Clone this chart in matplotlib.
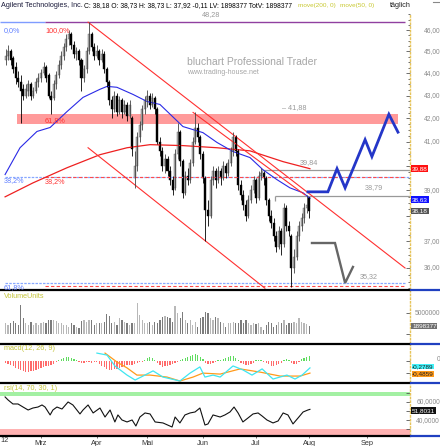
import matplotlib
matplotlib.use('Agg')
import matplotlib.pyplot as plt
from matplotlib import font_manager as fm
from matplotlib.ticker import FixedLocator, NullFormatter, NullLocator

# ---- data (bar index 6 = first visible day, 126 = last) ----
bar_idx = list(range(6, 127))

opens = [44.6, 44.8, 45.0, 44.7, 44.3, 43.8, 43.6, 43.3, 43.0, 43.2,
         43.5, 43.0, 43.2, 43.6, 43.8, 44.0, 44.3, 43.9, 43.0, 42.9,
         43.5, 43.9, 44.4, 44.8, 45.2, 45.6, 45.8, 45.3, 44.9, 45.0,
         44.6, 43.8, 44.2, 45.0, 45.8, 45.2, 44.8, 45.0, 44.6, 44.9,
         44.2, 43.6, 42.8, 42.4, 43.0, 42.3, 42.8, 42.3, 42.6, 42.1,
         42.0, 39.5, 40.0, 41.2, 41.7, 42.4, 42.8, 43.0, 42.6, 42.9,
         42.4, 41.0, 40.6, 40.0, 40.3, 39.8, 39.4, 39.1, 40.5, 41.4,
         40.2, 38.9, 39.6, 39.4, 40.1, 41.0, 41.6, 41.2, 40.5, 39.5,
         38.2, 38.0, 39.4, 39.8, 39.4, 39.8, 39.5, 40.0, 39.7, 40.1,
         40.6, 41.2, 40.6, 39.2, 38.8, 38.4, 38.0, 38.6, 39.0, 39.4,
         38.7, 39.6, 39.7, 39.5, 38.6, 38.0, 37.7, 37.2, 36.8, 37.4,
         36.9, 38.3, 37.6, 37.2, 36.0, 36.4, 37.2, 37.6, 37.9, 38.3,
         38.73]
highs = [45.1, 45.3, 45.1, 44.8, 44.5, 44.1, 43.9, 43.5, 43.5, 43.7,
         43.6, 43.4, 43.8, 44.0, 44.2, 44.5, 44.4, 44.0, 43.2, 43.7,
         44.1, 44.6, 45.0, 45.4, 45.8, 46.0, 45.9, 45.5, 45.2, 45.1,
         44.7, 44.4, 45.2, 46.38, 45.9, 45.4, 45.3, 45.1, 45.1, 45.0,
         44.3, 43.7, 43.0, 43.2, 43.1, 43.0, 42.9, 42.8, 42.7, 42.8,
         42.1, 40.6, 41.4, 41.9, 42.6, 43.0, 43.25, 43.1, 43.1, 43.0,
         42.5, 41.2, 40.8, 40.5, 40.4, 40.0, 39.6, 40.7, 41.8, 41.5,
         40.3, 39.8, 39.9, 40.3, 41.2, 42.3, 41.8, 41.3, 40.6, 39.6,
         38.6, 39.6, 40.0, 39.9, 40.0, 39.9, 40.2, 40.1, 40.3, 40.8,
         41.4, 41.3, 40.7, 39.4, 39.0, 38.6, 38.8, 39.2, 39.6, 39.5,
         39.8, 39.9, 39.8, 39.6, 38.7, 38.2, 37.9, 37.4, 37.6, 37.5,
         38.5, 38.4, 37.8, 37.3, 36.7, 37.4, 37.8, 38.1, 38.5, 38.8,
         38.73]
lows = [44.4, 44.6, 44.4, 44.0, 43.5, 43.4, 41.8, 42.8, 42.9, 43.0,
        42.8, 42.9, 43.1, 43.4, 43.6, 43.9, 43.6, 42.9, 42.2, 42.8,
        43.3, 43.8, 44.2, 44.6, 45.0, 45.3, 45.1, 44.7, 44.6, 44.4,
        43.2, 43.6, 44.0, 44.9, 45.0, 44.6, 44.7, 44.4, 44.5, 44.0,
        43.4, 42.6, 42.0, 42.3, 42.1, 42.2, 42.0, 42.2, 41.9, 42.0,
        40.4, 39.1, 39.8, 41.0, 41.5, 42.2, 42.5, 42.4, 42.5, 42.2,
        40.9, 40.4, 39.8, 39.7, 39.6, 39.2, 38.8, 39.0, 40.3, 40.0,
        38.7, 38.8, 39.2, 39.3, 40.0, 40.9, 41.0, 40.3, 39.3, 37.0,
        37.6, 37.9, 39.2, 39.1, 39.3, 39.2, 39.4, 39.5, 39.6, 40.0,
        40.4, 40.4, 39.0, 38.6, 38.2, 37.8, 37.9, 38.5, 38.9, 38.5,
        38.6, 39.4, 39.2, 38.4, 37.8, 37.5, 37.0, 36.6, 36.7, 36.5,
        36.8, 37.4, 37.2, 35.3, 35.8, 36.3, 37.0, 37.4, 37.7, 38.1,
        37.92]
closes = [44.8, 45.0, 44.6, 44.2, 43.8, 43.6, 43.2, 43.0, 43.3, 43.5,
          43.0, 43.2, 43.6, 43.8, 44.0, 44.3, 43.8, 43.0, 42.8, 43.5,
          43.9, 44.4, 44.8, 45.2, 45.6, 45.8, 45.3, 44.9, 45.0, 44.6,
          43.8, 44.2, 45.0, 45.8, 45.2, 44.8, 45.0, 44.6, 44.9, 44.2,
          43.6, 42.8, 42.4, 43.0, 42.3, 42.8, 42.3, 42.6, 42.1, 42.6,
          40.7, 40.0, 41.2, 41.7, 42.4, 42.8, 43.0, 42.6, 42.9, 42.4,
          41.0, 40.6, 40.0, 40.3, 39.8, 39.4, 39.0, 40.5, 41.4, 40.2,
          38.9, 39.6, 39.4, 40.1, 41.0, 41.6, 41.2, 40.5, 39.5, 38.2,
          38.0, 39.4, 39.8, 39.4, 39.8, 39.5, 40.0, 39.7, 40.1, 40.6,
          41.2, 40.6, 39.2, 38.8, 38.4, 38.0, 38.6, 39.0, 39.4, 38.7,
          39.6, 39.7, 39.5, 38.6, 38.0, 37.7, 37.2, 36.8, 37.4, 36.9,
          38.3, 37.6, 37.4, 36.0, 36.4, 37.2, 37.6, 37.9, 38.3, 38.4,
          38.18]

# volume in millions
volume = [2.6, 2.2, 2.7, 3.2, 2.6, 2.2, 7.0, 3.8, 2.6, 2.2,
          3.0, 2.2, 2.7, 2.2, 2.7, 3.0, 2.6, 3.5, 3.4, 3.5,
          3.2, 2.6, 2.7, 2.2, 2.2, 1.8, 2.6, 2.2, 1.8, 1.4,
          3.2, 3.4, 3.0, 3.5, 3.4, 2.2, 2.6, 2.7, 2.6, 3.0,
          4.8, 4.3, 2.6, 3.0, 2.2, 3.8, 3.4, 3.0, 2.6, 2.2,
          2.7, 2.6, 7.6, 4.6, 3.5, 2.7, 2.6, 3.0, 2.2, 3.0,
          2.6, 3.4, 4.2, 4.3, 4.2, 3.8, 3.0, 6.8, 5.0, 3.8,
          5.2, 3.4, 2.6, 3.4, 2.2, 3.0, 1.8, 3.8, 4.2, 5.4,
          5.0, 3.8, 3.5, 4.2, 3.8, 3.0, 2.6, 1.8, 2.6, 2.7,
          3.0, 2.6, 2.7, 3.4, 2.6, 3.5, 2.7, 2.2, 2.6, 2.4,
          2.7, 1.8, 1.0, 2.2, 3.0, 2.6, 1.8, 2.2, 3.0, 2.6,
          3.4, 2.2, 2.6, 2.7, 3.0, 2.6, 3.8, 3.0, 2.6, 2.4,
          1.9]

macd_hist = [-0.08, -0.12, -0.16, -0.20, -0.28, -0.32, -0.36, -0.40, -0.45, -0.45,
             -0.40, -0.40, -0.36, -0.32, -0.28, -0.24, -0.20, -0.20, -0.16, -0.12,
             -0.04, 0.04, 0.08, 0.12, 0.16, 0.16, 0.12, 0.08, 0.04, -0.04,
             -0.08, -0.08, -0.04, -0.04, -0.08, -0.04, -0.04, -0.12, -0.20, -0.24,
             -0.32, -0.36, -0.36, -0.32, -0.32, -0.28, -0.24, -0.20, -0.16, -0.16,
             -0.16, -0.12, -0.08, -0.04, -0.04, 0.04, 0.12, 0.16, 0.12, 0.04,
             -0.08, -0.16, -0.24, -0.20, -0.20, -0.16, -0.12, -0.08, -0.04, 0.04,
             0.08, 0.12, 0.16, 0.20, 0.24, 0.28, 0.24, 0.16, 0.08, -0.08,
             -0.12, -0.12, -0.08, -0.04, 0.04, 0.04, 0.08, 0.12, 0.16, 0.20,
             0.20, 0.12, 0.04, -0.08, -0.12, -0.16, -0.16, -0.12, -0.08, 0.04,
             0.04, 0.04, -0.04, -0.08, -0.12, -0.20, -0.20, -0.16, -0.12, -0.08,
             0.04, 0.08, 0.04, -0.08, -0.12, -0.12, -0.04, 0.08, 0.12, 0.16,
             0.20]

macd_x = [42.1, 46.1, 49.2, 54.0, 57.2, 60.3, 64.3, 68.2, 74.9, 78.9, 82.8, 84.8,
          88.0, 90.8, 95.9, 99.8, 103.4, 107.4, 111.7, 117.2, 120.4, 123.2, 126.3]
macd_line = [0.32, 0.24, -0.20, -0.57, -0.77, -0.61, -0.40, -0.65, -0.81, -0.49, -0.24, -0.65,
             -0.57, -0.65, -0.20, -0.36, -0.57, -0.32, -0.73, -0.57, -0.73, -0.57, -0.28]
signal_x = [45.3, 50.0, 54.0, 57.9, 63.1, 69.8, 74.9, 80.1, 84.0, 90.8, 98.7, 106.6, 114.5, 122.4, 126.3]
signal_line = [0.32, -0.04, -0.28, -0.57, -0.57, -0.65, -0.81, -0.65, -0.49, -0.53, -0.32, -0.45, -0.61, -0.61, -0.49]

rsi_x = [5.8, 7.0, 8.9, 10.9, 12.9, 14.9, 16.8, 18.8, 20.4, 21.6, 23.6, 24.7, 26.3, 28.3, 30.7,
         32.6, 35.4, 36.6, 38.6, 40.6, 43.3, 45.3, 47.3, 49.2, 50.4, 52.0, 54.0, 56.0, 57.5,
         59.1, 61.1, 63.1, 65.1, 68.2, 71.8, 73.0, 74.9, 76.9, 78.9, 80.9, 82.8, 84.8, 86.0,
         88.0, 90.8, 92.7, 94.7, 96.3, 97.9, 99.8, 101.8, 103.8, 105.8, 107.4, 109.3, 111.7,
         113.7, 115.7, 117.6, 119.6, 121.6, 123.6, 125.5, 126.3]
rsi_vals = [65.6, 62.2, 57.8, 57.8, 54.4, 51.1, 53.3, 54.4, 56.7, 54.4, 45.6, 51.1, 54.4, 52.2, 60.0,
            56.7, 46.7, 51.1, 56.7, 47.8, 53.3, 43.3, 51.1, 37.8, 45.6, 40.0, 37.8, 40.0, 33.3,
            43.3, 47.8, 46.7, 37.8, 36.7, 32.2, 43.3, 36.7, 45.6, 47.8, 48.9, 53.3, 34.4, 35.6,
            45.6, 43.3, 45.6, 48.9, 54.4, 47.8, 37.8, 42.2, 46.7, 47.8, 44.4, 40.0, 36.7,
            38.9, 47.8, 45.6, 35.6, 42.2, 48.9, 51.1, 51.8]

ma50_x = [5.8, 11.7, 18.4, 23.6, 30.3, 36.6, 43.3, 46.1, 50.0, 56.4, 61.9, 67.0, 76.1, 84.0,
          89.6, 95.9, 102.6, 107.7, 113.3, 118.4, 123.6, 126.3]
ma50 = [39.64, 40.75, 41.44, 41.61, 42.30, 42.92, 43.28, 43.41, 43.37, 43.05, 42.74, 42.61,
        41.65, 41.39, 40.97, 40.59, 40.34, 39.84, 39.43, 39.10, 38.90, 38.68]
ma200_x = [5.8, 16.8, 30.3, 43.3, 54.0, 63.1, 76.1, 89.6, 97.5, 102.6, 115.7, 126.3]
ma200 = [38.74, 39.30, 39.92, 40.46, 40.75, 40.88, 40.84, 40.75, 40.67, 40.62, 40.17, 39.88]

upper_x, upper_p = [38.6, 163.9], [46.38, 36.0]
lower_x, lower_p = [38.6, 108.5], [40.75, 35.26]
trend2_x, trend2_p = [80.1, 124.3], [42.26, 38.82]

fc_blue_x = [125.5, 133.4, 137.0, 140.2, 148.1, 150.8, 157.5, 161.1]
fc_blue_p = [38.94, 38.94, 39.88, 39.10, 41.09, 40.38, 42.18, 41.41]
fc_gray_x = [127.1, 136.2, 140.2, 143.3]
fc_gray_p = [36.94, 36.94, 35.45, 36.04]

level_top = 46.38
band = (41.78, 42.18)
fib382_blue, fib382_red = 39.56, 39.52
fib618_blue, fib618_red = 35.45, 35.34
gray_levels = [(107.4, 39.84), (112.5, 38.79)]

price_ticks = [36, 37, 39, 41, 42, 43, 44, 45, 46]   # 38 and 40 sit behind the value boxes
month_idx = [20, 42, 62, 84, 105, 126, 149]
month_names = ['Mrz', 'Apr', 'Mai', 'Jun', 'Jul', 'Aug', 'Sep']

# ---- layout helpers (pixel space of a 440x446 image) ----
W, H = 440, 446
names = {f.name for f in fm.fontManager.ttflist}
FONT = ['Liberation Sans Narrow', 'Liberation Sans'] if 'Liberation Sans Narrow' in names else ['Liberation Sans']
plt.rcParams['font.family'] = FONT + ['DejaVu Sans']

fig = plt.figure(figsize=(W / 100, H / 100), dpi=100)
fig.patch.set_facecolor('white')


def add_ax(x0, y0, x1, y1):
    a = fig.add_axes([x0 / W, 1 - y1 / H, (x1 - x0) / W, (y1 - y0) / H])
    a.set_facecolor('none')
    for s in ['top', 'left', 'bottom']:
        a.spines[s].set_visible(False)
    a.spines['right'].set_color('#e6c45a')
    a.spines['right'].set_linestyle(':')
    a.spines['right'].set_linewidth(1.0)
    a.set_xlim(3.79, 165.85)
    a.xaxis.set_major_locator(NullLocator())
    return a


def ftext(x, y, s, **kw):
    kw.setdefault('va', 'center')
    kw.setdefault('fontsize', 5.2)
    fig.text(x / W, 1 - y / H, s, **kw)


def right_label(a, v, s, **kw):
    a.text(440 / 410, v, s, transform=a.get_yaxis_transform(), ha='right', va='center',
           fontsize=4.8, color='#8a8a8a', clip_on=False, **kw)


def value_box(a, v, s, fc, tc='white', pad=0.5):
    a.text(412 / 410, v, s, transform=a.get_yaxis_transform(), ha='left', va='center',
           fontsize=4.6, color=tc, clip_on=False,
           bbox=dict(facecolor=fc, edgecolor='none', pad=pad))


# ---- main price panel ----
ax = add_ax(0, 13, 410, 289)
ax.set_yscale('log')
ax.set_ylim(35.23, 46.82)
ax.yaxis.set_major_locator(FixedLocator(list(range(36, 47))))
ax.yaxis.set_minor_locator(FixedLocator([v / 4 for v in range(141, 188)]))
ax.yaxis.set_major_formatter(NullFormatter())
ax.yaxis.set_minor_formatter(NullFormatter())
ax.tick_params(axis='y', which='both', left=False, right=True, direction='in',
               color='#555555', width=0.6)
ax.tick_params(axis='y', which='major', length=3)
ax.tick_params(axis='y', which='minor', length=1.8)
for v in price_ticks:
    right_label(ax, v, f'{v},00')

# fib / level lines
ax.hlines(level_top, 3.79, 21.6, color='#7f9cff', lw=1.0)
ax.hlines(level_top, 21.6, 163.9, color='#9040a0', lw=1.0)
ax.fill_between([10.5, 161.1], band[0], band[1], color='#ff9a9a', lw=0)
ax.hlines(fib382_blue, 5.77, 165.85, color='#88a8ff', lw=0.9, linestyles=(0, (2, 1)))
ax.hlines(fib382_red, 21.6, 163.9, color='#ff4a4a', lw=0.8, linestyles=(0, (3, 2)))
ax.hlines(fib618_blue, 5.77, 163.9, color='#88a8ff', lw=0.9, linestyles=(0, (2, 1)))
ax.hlines(fib618_red, 21.6, 163.9, color='#ff4a4a', lw=0.8, linestyles=(0, (3, 2)))
for x0, v in gray_levels:
    ax.hlines(v, x0, 165.85, color='#999999', lw=0.9)
    ax.vlines(x0, v * 0.994, v, color='#999999', lw=0.9)

# moving averages and trend lines
ax.plot(ma200_x, ma200, color='#ee2020', lw=0.9)
ax.plot(ma50_x, ma50, color='#2a2ae6', lw=0.8)
ax.plot(upper_x, upper_p, color='#ff3030', lw=0.8)
ax.plot(lower_x, lower_p, color='#ff3030', lw=0.8)
ax.plot(trend2_x, trend2_p, color='#ff3030', lw=0.8)

# candles
up = [c >= o for o, c in zip(opens, closes)]
wick_cols = ['#444444' if u else '#000000' for u in up]
ax.vlines(bar_idx, lows, highs, colors=wick_cols, lw=0.6)
body_lo = [min(o, c) for o, c in zip(opens, closes)]
body_h = [max(abs(c - o), 0.04) for o, c in zip(opens, closes)]
ax.bar(bar_idx, body_h, bottom=body_lo, width=0.8,
       color=['#b0b0b0' if u else '#000000' for u in up],
       edgecolor=['#5a5a5a' if u else '#000000' for u in up], linewidth=0.3)

# forecast paths
ax.plot(fc_gray_x, fc_gray_p, color='#666666', lw=1.7, solid_joinstyle='miter')
ax.plot(fc_blue_x, fc_blue_p, color='#2436c8', lw=2.0, solid_joinstyle='miter')

value_box(ax, 39.88, '39,88', '#ff1010')
value_box(ax, 38.63, '38,63', '#1010ff')
value_box(ax, 38.18, '38,18', '#555555')

# ---- volume panel ----
axv = add_ax(0, 291, 410, 343)
axv.set_ylim(-2.17, 10.39)
axv.bar(bar_idx, volume, width=0.5, color=['#b8b8b8' if u else '#7c7c7c' for u in up], lw=0)
axv.yaxis.set_major_locator(FixedLocator([0, 5]))
axv.yaxis.set_major_formatter(NullFormatter())
axv.tick_params(axis='y', left=False, right=True, direction='in', length=3, color='#555555', width=0.6)
right_label(axv, 5, '5000000')
value_box(axv, 1.9, '1898377', '#707070')

# ---- macd panel ----
axm = add_ax(0, 345, 410, 382)
axm.set_ylim(-0.85, 0.648)
axm.bar(bar_idx, macd_hist, width=0.5, color=['#5fdc5f' if h > 0 else '#ff6b6b' for h in macd_hist], lw=0)
axm.plot(signal_x, signal_line, color='#ff9a1a', lw=0.9)
axm.plot(macd_x, macd_line, color='#3fe6f0', lw=0.9)
axm.yaxis.set_major_locator(FixedLocator([0, -0.5]))
axm.yaxis.set_major_formatter(NullFormatter())
axm.tick_params(axis='y', left=False, right=True, direction='in', length=3, color='#555555', width=0.6)
right_label(axm, 0.05, '0')
value_box(axm, -0.23, '-0,2789', '#40f0f8', tc='#222222', pad=0.2)
value_box(axm, -0.53, '-0,4859', '#ff9a1a', tc='#222222', pad=0.2)

# ---- rsi panel ----
axr = add_ax(0, 384, 410, 435)
axr.set_ylim(23.3, 80)
axr.axhspan(67.2, 70.6, color='#a3f0a3', lw=0)
axr.axhspan(23.3, 30, color='#ffb2b2', lw=0)
axr.plot(rsi_x, rsi_vals, color='#111111', lw=0.8)
axr.yaxis.set_major_locator(FixedLocator([40, 60]))
axr.yaxis.set_minor_locator(FixedLocator([30, 50, 70]))
axr.yaxis.set_major_formatter(NullFormatter())
axr.tick_params(axis='y', which='both', left=False, right=True, direction='in', length=3,
                color='#555555', width=0.6)
right_label(axr, 61, '60,0000')
right_label(axr, 39, '40,0000')
value_box(axr, 50.5, '51,8031', '#111111')
axr.set_xticks(month_idx)
axr.set_xticklabels(month_names)
axr.tick_params(axis='x', bottom=True, length=2, pad=1.5, labelsize=5.3,
                labelcolor='#333333', color='#555555', width=0.6)

# ---- separators ----
for y in [290, 343.5, 382.5, 435.5]:
    fig.add_artist(plt.Line2D([0, 410 / W], [1 - y / H] * 2, color='black', lw=1.6))
    fig.add_artist(plt.Line2D([411 / W, 1], [1 - y / H] * 2, color='#2040c0', lw=1.6))

# ---- texts ----
ftext(1, 5.5, 'Agilent Technologies, Inc.', color='#1c1c3c')
ftext(84, 5.5, 'C: 38,18 O: 38,73 H: 38,73 L: 37,92 -0,11 LV: 1898377 TotV: 1898377',
      color='black', fontsize=4.9)
ftext(298, 5.5, 'move(200, 0)', color='#c8c830', fontsize=4.6)
ftext(340, 5.5, 'move(50, 0)', color='#c8c830', fontsize=4.6)
ftext(390, 5.5, 'täglich', color='#222222')
fig.add_artist(plt.Line2D([433 / W, 1], [1 - 2 / H] * 2, color='#888888', lw=0.8))

ftext(220, 15, '48,28', color='#999999', ha='right')
ftext(4, 31, '0,0%', color='#5f7fff')
ftext(45, 31, '100,0%', color='#ff3030')
ftext(45, 121, '61,8%', color='#ff3030')
ftext(4, 181, '38,2%', color='#5f7fff')
ftext(45, 182, '38,2%', color='#ff3030')
ftext(4, 288, '61,8%', color='#5f7fff')
ftext(282, 108, '– 41,88', color='#999999')
ftext(300, 163, '39,84', color='#999999')
ftext(365, 188, '38,79', color='#999999')
ftext(360, 277, '35,32', color='#999999')
ftext(187, 62, 'bluchart Professional Trader', color='#a6a6a6', fontsize=7.5)
ftext(187, 73, 'www.trading-house.net', color='#a6a6a6', fontsize=5.0)

ftext(4, 296, 'VolumeUnits', color='#c4c43a')
ftext(4, 349, 'macd(12, 26, 9)', color='#c4c43a')
ftext(4, 388, 'rsi(14, 70, 30, 1)', color='#c4c43a')
ftext(0, 441, '12', color='#333333', fontsize=5.3)

fig.savefig('out.png', dpi=100)
